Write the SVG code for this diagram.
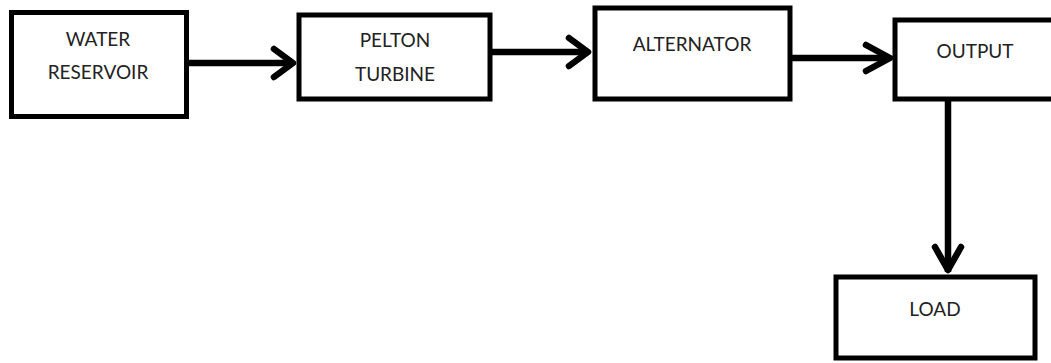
<svg xmlns="http://www.w3.org/2000/svg" width="1051" height="363" viewBox="0 0 1051 363">
<style>
.box{fill:#fff;stroke:#000;stroke-width:5}
.lbl{font-family:Lato,"Open Sans","Liberation Sans",sans-serif;font-size:19px;fill:#222;text-anchor:middle;dominant-baseline:central}
.ln{stroke:#000;stroke-width:6.5;fill:none}
.hd{stroke:#000;stroke-width:6.5;fill:none;stroke-linecap:round;stroke-linejoin:round}
</style>
<rect width="1051" height="363" fill="#fff"/>
<g id="connectors">
<line class="ln" x1="189" y1="63" x2="293" y2="63"/>
<polyline class="hd" points="274,49 293,63 274,77"/>
<line class="ln" x1="492" y1="52" x2="588" y2="52"/>
<polyline class="hd" points="569,38 588,52 569,66"/>
<line class="ln" x1="792" y1="58" x2="890" y2="58"/>
<polyline class="hd" points="866,45 890,58 866,71"/>
<line class="ln" x1="948" y1="100" x2="948" y2="272"/>
<polyline class="hd" points="935,247 948,270 961,247"/>
</g>
<g id="water-reservoir">
<rect class="box" x="11.5" y="12.5" width="175" height="104"/>
<text class="lbl" x="98" y="38">WATER</text>
<text class="lbl" x="98" y="71">RESERVOIR</text>
</g>
<g id="pelton-turbine">
<rect class="box" x="299" y="15" width="191" height="84"/>
<text class="lbl" x="395" y="39">PELTON</text>
<text class="lbl" x="395" y="73">TURBINE</text>
</g>
<g id="alternator">
<rect class="box" x="595" y="8" width="195" height="91"/>
<text class="lbl" x="692" y="43">ALTERNATOR</text>
</g>
<g id="output">
<rect class="box" x="895" y="20" width="170" height="79"/>
<text class="lbl" x="975" y="50">OUTPUT</text>
</g>
<g id="load">
<rect class="box" x="836" y="277" width="199" height="81"/>
<text class="lbl" x="935" y="308">LOAD</text>
</g>
</svg>
